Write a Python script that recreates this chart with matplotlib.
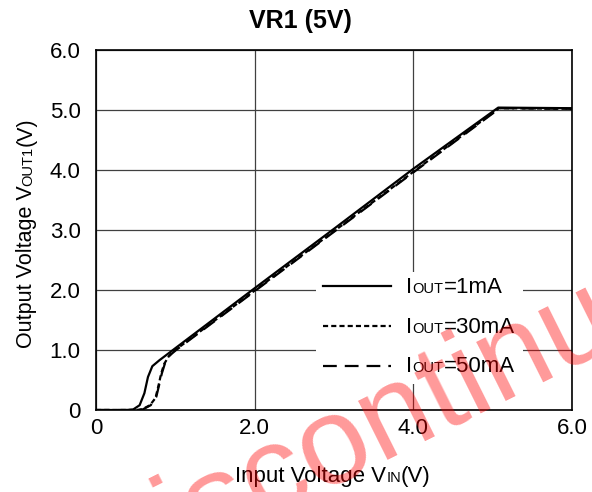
import matplotlib
matplotlib.use('Agg')
from matplotlib import pyplot as plt
from matplotlib.transforms import IdentityTransform

plt.rcParams['font.family'] = ['Liberation Sans', 'DejaVu Sans']

# measured curves, VIN (V) -> VOUT1 (V)
vin_1ma = [0, 0.40, 0.47, 0.55, 0.61, 0.655, 0.71, 0.80, 0.97, 2.0, 3.0, 4.0, 5.07, 6.0]
vout_1ma = [0, 0, 0.01, 0.08, 0.28, 0.55, 0.73, 0.83, 1.0, 2.03, 3.02, 4.02, 5.04, 5.03]
vin_30ma = [0, 0.50, 0.58, 0.68, 0.75, 0.79, 0.82, 0.86, 0.92, 1.0, 2.0, 3.0, 4.0, 5.08, 6.0]
vout_30ma = [0, 0, 0.01, 0.08, 0.20, 0.42, 0.60, 0.77, 0.90, 1.0, 1.99, 2.98, 3.97, 5.03, 5.02]
vin_50ma = [0, 0.51, 0.59, 0.69, 0.76, 0.80, 0.83, 0.87, 0.93, 1.01, 2.0, 3.0, 4.0, 5.09, 6.0]
vout_50ma = [0, 0, 0.01, 0.08, 0.22, 0.44, 0.61, 0.78, 0.91, 1.0, 1.98, 2.97, 3.96, 5.03, 5.02]

xticks = [0, 2, 4, 6]
xtick_labels = ['0', '2.0', '4.0', '6.0']
yticks = [0, 1, 2, 3, 4, 5, 6]
ytick_labels = ['0', '1.0', '2.0', '3.0', '4.0', '5.0', '6.0']
legend_labels = ['IOUT=1mA', 'IOUT=30mA', 'IOUT=50mA']
legend_tails = ['=1mA', '=30mA', '=50mA']

FS = 16
SMALL = 10.5
W, H = 592, 492

fig = plt.figure(figsize=(W / 100, H / 100), dpi=100)
ax = fig.add_axes([96 / W, 82 / H, 476 / W, 360 / H])

l1, = ax.plot(vin_1ma, vout_1ma, color='black', lw=1.6)
l2, = ax.plot(vin_30ma, vout_30ma, color='black', lw=1.6, dashes=(2.3, 1.4))
l3, = ax.plot(vin_50ma, vout_50ma, color='black', lw=1.6, dashes=(6.2, 3.6))

ax.set_xlim(0, 6)
ax.set_ylim(0, 6)
ax.set_xticks(xticks, xtick_labels)
ax.set_yticks(yticks, ytick_labels)
ax.tick_params(length=0, labelsize=FS)
ax.tick_params(axis='x', pad=6)
ax.tick_params(axis='y', pad=11)
ax.grid(True, color='#404040', lw=0.9)
ax.set_axisbelow(True)
for s in ax.spines.values():
    s.set_linewidth(1.2)

# legend texts are placeholders, the visible labels are drawn on top
leg = ax.legend([l1, l2, l3], legend_labels, loc='center left',
                bbox_to_anchor=(0.441, 0.228), fontsize=14,
                handlelength=3.5, handletextpad=0.77, labelspacing=1.13,
                borderpad=0.4, frameon=True, fancybox=False,
                facecolor='white', edgecolor='none', framealpha=1)
for t in leg.get_texts():
    t.set_color('none')

fig.text(300 / W, 1 - 28 / H, 'VR1 (5V)', ha='center', va='baseline',
         fontsize=18, fontweight='bold')

fig.canvas.draw()
r = fig.canvas.get_renderer()


def put_pieces(x, y, pieces, rotation=0, center=False):
    # pieces of (text, size) on one baseline, in pixels
    arts = []
    for s, size in pieces:
        arts.append(fig.text(0, 0, s, fontsize=size, ha='left', va='baseline',
                             rotation=rotation, rotation_mode='anchor',
                             transform=IdentityTransform()))
    sizes = []
    for a in arts:
        bb = a.get_window_extent(r)
        sizes.append(bb.height if rotation else bb.width)
    if center:
        if rotation:
            y -= sum(sizes) / 2
        else:
            x -= sum(sizes) / 2
    for a, d in zip(arts, sizes):
        a.set_position((x, y))
        if rotation:
            y += d
        else:
            x += d


for t, tail in zip(leg.get_texts(), legend_tails):
    px, py = t.get_transform().transform(t.get_position())
    put_pieces(px, py, [('I', FS), ('OUT', SMALL), (tail, FS)])

put_pieces(333, H - 482, [('Input Voltage V', FS), ('IN', SMALL), ('(V)', FS)],
           center=True)
put_pieces(32, H - 233, [('Output Voltage V', 15.5), ('OUT1', SMALL), ('(V)', 15.5)],
           rotation=90, center=True)

# watermark
fig.text(424, H - 437, 'Discontinued', ha='center', va='baseline',
         rotation=26.5, rotation_mode='anchor', fontsize=90,
         color='red', alpha=0.4, transform=IdentityTransform())

fig.savefig('out.png', dpi=100)
